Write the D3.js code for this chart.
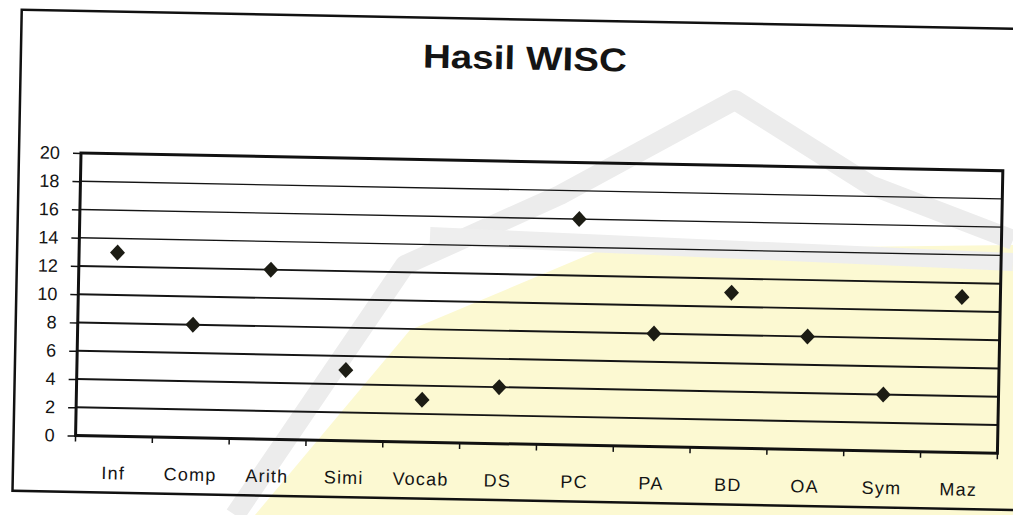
<!DOCTYPE html>
<html>
<head>
<meta charset="utf-8">
<script src="https://cdn.jsdelivr.net/npm/d3@7"></script>
<style>
  body { margin: 0; background: #fff; }
  svg { display: block; }
  text { font-family: Arial, "Liberation Sans", sans-serif; fill: #141414; }
</style>
</head>
<body>
<div id="chart"></div>
<script>
'use strict';

// data
var categories = ['Inf', 'Comp', 'Arith', 'Simi', 'Vocab', 'DS', 'PC', 'PA', 'BD', 'OA', 'Sym', 'Maz'];
var scores = [13, 8, 12, 5, 3, 4, 16, 8, 11, 8, 4, 11];
var yTicks = [0, 2, 4, 6, 8, 10, 12, 14, 16, 18, 20];
var chartTitle = 'Hasil WISC';

var W = 1013, H = 515
  , plot = { left: 81, right: 1003, top: 153, bottom: 435.6 }
  , tilt = 1.1   // the page was scanned slightly crooked
;

var svg = d3.select('#chart').append('svg')
    .attr('width', W)
    .attr('height', H);

svg.append('rect').attr('width', W).attr('height', H).attr('fill', '#fff');

// faint watermark left by the scan (background only)
var wm = svg.append('g').attr('class', 'watermark');
wm.append('path')
    .attr('d', 'M255,515 L410,330 L600,250 L1013,245 L1013,515 Z')
    .attr('fill', '#fcf9d2');
wm.append('path')
    .attr('d', 'M235,515 L405,265 L560,195 L735,100 L870,185 L1013,240')
    .attr('fill', 'none')
    .attr('stroke', '#ececec')
    .attr('stroke-width', 20)
    .attr('stroke-linejoin', 'round');
wm.append('path')
    .attr('d', 'M430,236 L1013,262')
    .attr('fill', 'none')
    .attr('stroke', '#eeeeee')
    .attr('stroke-width', 18);

var g = svg.append('g')
    .attr('transform', 'rotate(' + tilt + ',' + plot.left + ',' + plot.top + ')');

var x = d3.scaleBand()
    .domain(categories)
    .range([plot.left, plot.right]);

var y = d3.scaleLinear()
    .domain([0, 20])
    .range([plot.bottom, plot.top]);

// outer chart frame
g.append('rect')
    .attr('x', 19).attr('y', 11)
    .attr('width', 1060).attr('height', 481)
    .attr('fill', 'none')
    .attr('stroke', '#111')
    .attr('stroke-width', 2.5);

// title
g.append('text')
    .attr('x', 523).attr('y', 61)
    .attr('text-anchor', 'middle')
    .attr('font-size', 33)
    .attr('font-weight', 'bold')
    .attr('textLength', 204)
    .attr('lengthAdjust', 'spacingAndGlyphs')
    .text(chartTitle);

// horizontal gridlines
g.append('g').attr('class', 'grid')
  .selectAll('line')
    .data(yTicks.filter(function (d) { return d > 0 && d < 20; }))
    .enter().append('line')
    .attr('x1', plot.left).attr('x2', plot.right)
    .attr('y1', function (d) { return y(d); })
    .attr('y2', function (d) { return y(d); })
    .attr('stroke', '#151515')
    .attr('stroke-width', function (d) { return d >= 14 ? 1.3 : 1.9; });

// y axis
var yAxis = g.append('g')
    .attr('transform', 'translate(' + plot.left + ',0)')
    .call(d3.axisLeft(y).tickValues(yTicks).tickSize(8).tickPadding(13));
yAxis.select('.domain').remove();
yAxis.selectAll('.tick line').attr('stroke', '#111').attr('stroke-width', 1.5);
yAxis.selectAll('.tick text')
    .attr('font-size', 18)
    .attr('fill', '#141414')
    .style('font-family', 'Arial, "Liberation Sans", sans-serif');

// x tick marks on category boundaries
var bounds = categories.map(function (c) { return x(c); }).concat([plot.right]);
g.append('g').attr('class', 'xticks')
  .selectAll('line')
    .data(bounds)
    .enter().append('line')
    .attr('x1', function (d) { return d; }).attr('x2', function (d) { return d; })
    .attr('y1', plot.bottom).attr('y2', plot.bottom + 6)
    .attr('stroke', '#111')
    .attr('stroke-width', 1.5);

// category labels
g.append('g').attr('class', 'xlabels')
  .selectAll('text')
    .data(categories)
    .enter().append('text')
    .attr('x', function (d) { return x(d) + x.bandwidth() / 2; })
    .attr('y', plot.bottom + 43)
    .attr('text-anchor', 'middle')
    .attr('font-size', 18)
    .attr('letter-spacing', 1.2)
    .text(function (d) { return d; });

// plot frame
g.append('rect')
    .attr('x', plot.left).attr('y', plot.top)
    .attr('width', plot.right - plot.left)
    .attr('height', plot.bottom - plot.top)
    .attr('fill', 'none')
    .attr('stroke', '#111')
    .attr('stroke-width', 3);

// diamonds
var diamond = d3.symbol().type(d3.symbolSquare).size(112);
g.append('g').attr('class', 'points')
  .selectAll('path')
    .data(scores)
    .enter().append('path')
    .attr('d', diamond)
    .attr('transform', function (d, i) {
      return 'translate(' + (x(categories[i]) + x.bandwidth() / 2) + ',' + y(d) + ') scale(1,1.07) rotate(45)';
    })
    .attr('fill', '#1c1c14');
</script>
</body>
</html>
